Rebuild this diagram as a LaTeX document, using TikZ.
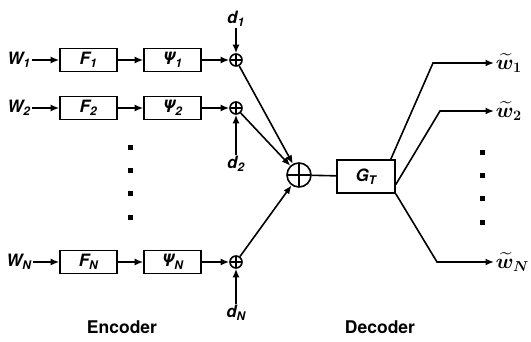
\documentclass[tikz,border=0pt]{standalone}
\usepackage{amsmath}
\usepackage{fontspec}
\setmainfont{TeX Gyre Heros}
\usetikzlibrary{arrows.meta}
\begin{document}
\begin{tikzpicture}[x=1pt,y=-1pt,line width=1.6pt,
  blk/.style={draw,minimum width=57pt,minimum height=23pt,inner sep=0pt,
    font=\fontsize{17}{17}\selectfont\bfseries\itshape},
  lbl/.style={inner sep=1pt,font=\fontsize{17}{17}\selectfont\bfseries\itshape},
  outlbl/.style={anchor=west,inner sep=1pt,font=\fontsize{20}{20}\selectfont},
  captext/.style={font=\fontsize{17.5}{17.5}\selectfont\bfseries},
  arr/.style={-{Latex[length=8.5pt,width=7pt]}},
  sm/.style={draw,circle,minimum size=#1,inner sep=0pt,
    path picture={\draw[line width=1.2pt]
      (path picture bounding box.north) -- (path picture bounding box.south)
      (path picture bounding box.west) -- (path picture bounding box.east);}},
  sm/.default=12pt,
  dotmark/.style={fill,minimum size=5pt,inner sep=0pt}]
\useasboundingbox (0,0) rectangle (531,341);

% encoder rows
\foreach \i/\y/\s in {1/60/1,2/108/2,N/262/N}{
  \node[lbl] (w\i) at (19,\y) {W\textsubscript{\s}};
  \node[blk] (f\i) at (88.5,\y) {F\textsubscript{\s}};
  \node[blk] (p\i) at (172.5,\y) {Ψ\textsubscript{\s}};
  \node[sm] (s\i) at (236,\y) {};
  \draw[arr] (w\i) -- (f\i);
  \draw[arr] (f\i) -- (p\i);
  \draw[arr] (p\i) -- (s\i);
}

% disturbances
\node[lbl] (d1) at (236,19) {d\textsubscript{1}};
\node[lbl] (d2) at (236,164) {d\textsubscript{2}};
\node[lbl] (dN) at (236,313) {d\textsubscript{N}};
\draw[arr] (d1) -- (s1);
\draw[arr] (d2) -- (s2);
\draw[arr] (dN) -- (sN);

% vertical ellipsis between rows
\foreach \y in {147,170,193,217} \node[dotmark] at (130,\y) {};

% combiner and decoder
\node[sm=24pt] (bs) at (299,175) {};
\node[blk,minimum width=58pt,minimum height=33pt] (g) at (366,176.5) {G\textsubscript{T}};
\draw[arr] (s1) -- (bs);
\draw[arr] (s2) -- (bs);
\draw[arr] (sN) -- (bs);
\draw (bs) -- (g);

% decoder outputs
\node[outlbl] (o1) at (494,63) {$\boldsymbol{\widetilde{w}_1}$};
\node[outlbl] (o2) at (494,111) {$\boldsymbol{\widetilde{w}_2}$};
\node[outlbl] (oN) at (494,262) {$\boldsymbol{\widetilde{w}_N}$};
\coordinate (e1) at (433,63);
\coordinate (e2) at (440,111);
\coordinate (eN) at (437,262);
\draw[arr] ([xshift=-5pt]g.north east) -- (e1) -- (o1.west);
\draw[arr] ([yshift=-8pt]g.east) -- (e2) -- (o2.west);
\draw[arr] (g.south east) -- (eN) -- (oN.west);
\foreach \y in {152,175,198,222} \node[dotmark] at (482,\y) {};

% captions
\node[captext] (enc) at (122,327) {Encoder};
\node[captext] (dec) at (380,327) {Decoder};
\end{tikzpicture}
\end{document}
